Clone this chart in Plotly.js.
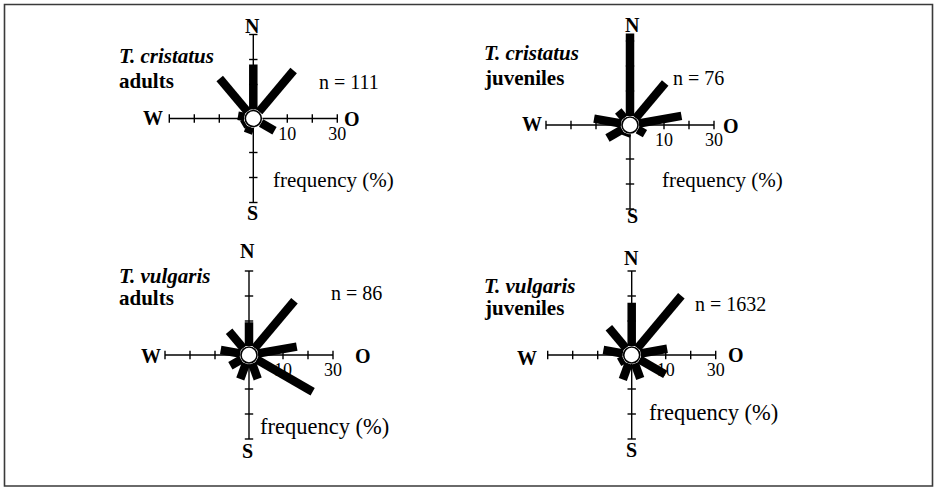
<!DOCTYPE html>
<html>
<head>
<meta charset="utf-8">
<script src="https://cdn.plot.ly/plotly-3.0.1.min.js"></script>
<style>
  html, body { margin: 0; padding: 0; background: #fff; }
  #chart { width: 936px; height: 488px; }
</style>
</head>
<body>
<div id="chart"></div>
<script>
// ---------- data (frequency %, by direction in degrees clockwise from N) ----------
const directions = [0, 40, 80, 120, 160, 200, 240, 280, 320];
const cristatusAdults    = [18.0, 21.5, 0.0, 6.2, 0.0, 2.7, 1.5, 2.6, 17.3];
const cristatusJuveniles = [33.0, 18.3, 17.3, 3.3, 0.0, 1.2, 6.8, 11.0, 3.7];
const vulgarisAdults     = [9.5, 24.7, 15.8, 25.8, 6.6, 6.6, 5.0, 7.9, 8.8];
const vulgarisJuveniles  = [17.3, 27.3, 10.8, 11.9, 6.4, 6.8, 2.2, 7.9, 10.6];

const speciesLabels = ['T. cristatus', 'T. cristatus', 'T. vulgaris', 'T. vulgaris'];
const stageLabels   = ['adults', 'juveniles', 'adults', 'juveniles'];
const nLabels       = ['n = 111', 'n = 76', 'n = 86', 'n = 1632'];
const axisLabel     = 'frequency (%)';

const armAngles  = [0, 90, 180, 270];
const armLength  = 30;
const tickValues = [10, 20, 30];
const tickLabels = ['10', '', '30'];
const compassLabels = ['N', 'O', 'S', 'W'];

const allSeries = [cristatusAdults, cristatusJuveniles, vulgarisAdults, vulgarisJuveniles];

// ---------- layout geometry (pixels) ----------
const W = 936, H = 488;
const HOLE_PX = 9, PX_PER_UNIT = 2.5, RMAX = 34;
const R = HOLE_PX + PX_PER_UNIT * RMAX;
const FONT = '"Liberation Serif", "Times New Roman", Times, serif';

const panels = [
  { cx: 253.3, cy: 118.5, sp: [117, 55.5], st: [117, 81], n: [349, 82],
    N: [253, 26], O: [351.5, 119.5], S: [252, 213], Wl: [152.5, 118.5], fr: [333, 180], frSize: 21 },
  { cx: 630, cy: 125, sp: [482, 52.5], st: [482, 77.5], n: [698, 77.5],
    N: [632, 25], O: [731, 126], S: [632, 216], Wl: [532, 124], fr: [722, 180], frSize: 21 },
  { cx: 249, cy: 355, sp: [117, 276], st: [117, 298], n: [356.7, 292.5],
    N: [247.5, 251], O: [362.5, 356], S: [247.5, 451], Wl: [151, 356], fr: [324.5, 426], frSize: 22.5 },
  { cx: 631.7, cy: 355, sp: [482, 286], st: [482, 308], n: [730.5, 304],
    N: [631.5, 257.5], O: [735.5, 355], S: [631, 450], Wl: [527, 357.5], fr: [713, 412.7], frSize: 22.5 }
];

const px = x => x / W;
const py = y => 1 - y / H;

const traces = [];
const layout = {
  width: W, height: H,
  margin: { l: 0, r: 0, t: 0, b: 0 },
  paper_bgcolor: '#fff',
  plot_bgcolor: '#fff',
  showlegend: false,
  annotations: [],
  shapes: [{
    type: 'rect', xref: 'paper', yref: 'paper',
    x0: px(4.5), x1: px(932.5), y0: py(486), y1: py(4.5),
    line: { color: '#3a3a3a', width: 1.6 }, fillcolor: 'rgba(0,0,0,0)'
  }]
};

function withGaps(pairs) {
  const r = [], t = [];
  pairs.forEach((p, i) => {
    if (i > 0) { r.push(null); t.push(null); }
    r.push(p[0][0], p[1][0]);
    t.push(p[0][1], p[1][1]);
  });
  return { r, t };
}

panels.forEach((p, i) => {
  const sub = i === 0 ? 'polar' : 'polar' + (i + 1);
  layout[sub] = {
    domain: { x: [px(p.cx - R), px(p.cx + R)], y: [py(p.cy + R), py(p.cy - R)] },
    hole: HOLE_PX / R,
    bgcolor: 'rgba(0,0,0,0)',
    radialaxis: { visible: false, range: [0, RMAX] },
    angularaxis: { visible: false, rotation: 90, direction: 'clockwise' }
  };

  // axis cross
  const arms = withGaps(armAngles.map(a => [[0, a], [armLength, a]]));
  traces.push({ type: 'scatterpolar', subplot: sub, mode: 'lines', r: arms.r, theta: arms.t,
    line: { color: '#000', width: 1.4 }, hoverinfo: 'skip' });

  // tick marks on the arms
  const nsR = [], nsT = [], ewR = [], ewT = [];
  [0, 180].forEach(a => tickValues.forEach(v => { nsR.push(v); nsT.push(a); }));
  [90, 270].forEach(a => tickValues.forEach(v => { ewR.push(v); ewT.push(a); }));
  traces.push({ type: 'scatterpolar', subplot: sub, mode: 'markers', r: nsR, theta: nsT,
    marker: { symbol: 'line-ew', size: 6, line: { color: '#000', width: 1.4 } }, hoverinfo: 'skip' });
  traces.push({ type: 'scatterpolar', subplot: sub, mode: 'markers', r: ewR, theta: ewT,
    marker: { symbol: 'line-ns', size: 6, line: { color: '#000', width: 1.4 } }, hoverinfo: 'skip' });

  // bars
  const series = allSeries[i];
  const bars = withGaps(directions.map((d, k) => [[0, d], [series[k], d]]));
  traces.push({ type: 'scatterpolar', subplot: sub, mode: 'lines', r: bars.r, theta: bars.t,
    line: { color: '#000', width: 8.5 }, hoverinfo: 'skip' });

  // tick labels below the east arm
  traces.push({ type: 'scatterpolar', subplot: sub, mode: 'markers+text', r: tickValues,
    theta: tickValues.map(() => 90), text: tickLabels, textposition: 'bottom center',
    marker: { size: 11, color: 'rgba(0,0,0,0)' },
    cliponaxis: false, textfont: { family: FONT, size: 18, color: '#000' }, hoverinfo: 'skip' });

  // centre circle
  const cr = 8;
  layout.shapes.push({ type: 'circle', xref: 'paper', yref: 'paper', layer: 'above',
    x0: px(p.cx - cr), x1: px(p.cx + cr), y0: py(p.cy + cr), y1: py(p.cy - cr),
    fillcolor: '#fff', line: { color: '#000', width: 1.6 } });

  const ann = (text, xy, size, xanchor) => layout.annotations.push({
    xref: 'paper', yref: 'paper', x: px(xy[0]), y: py(xy[1]), text: text, showarrow: false,
    xanchor: xanchor || 'center', yanchor: 'middle', font: { family: FONT, size: size, color: '#000' }
  });
  ann('<b><i>' + speciesLabels[i] + '</i></b>', p.sp, 21, 'left');
  ann('<b>' + stageLabels[i] + '</b>', p.st, 21, 'left');
  ann(nLabels[i], p.n, 20);
  ann(axisLabel, p.fr, p.frSize);
  ann('<b>' + compassLabels[0] + '</b>', p.N, 20);
  ann('<b>' + compassLabels[1] + '</b>', p.O, 20);
  ann('<b>' + compassLabels[2] + '</b>', p.S, 20);
  ann('<b>' + compassLabels[3] + '</b>', p.Wl, 20);
});

Plotly.newPlot('chart', traces, layout, { staticPlot: true, displayModeBar: false });
</script>
</body>
</html>
